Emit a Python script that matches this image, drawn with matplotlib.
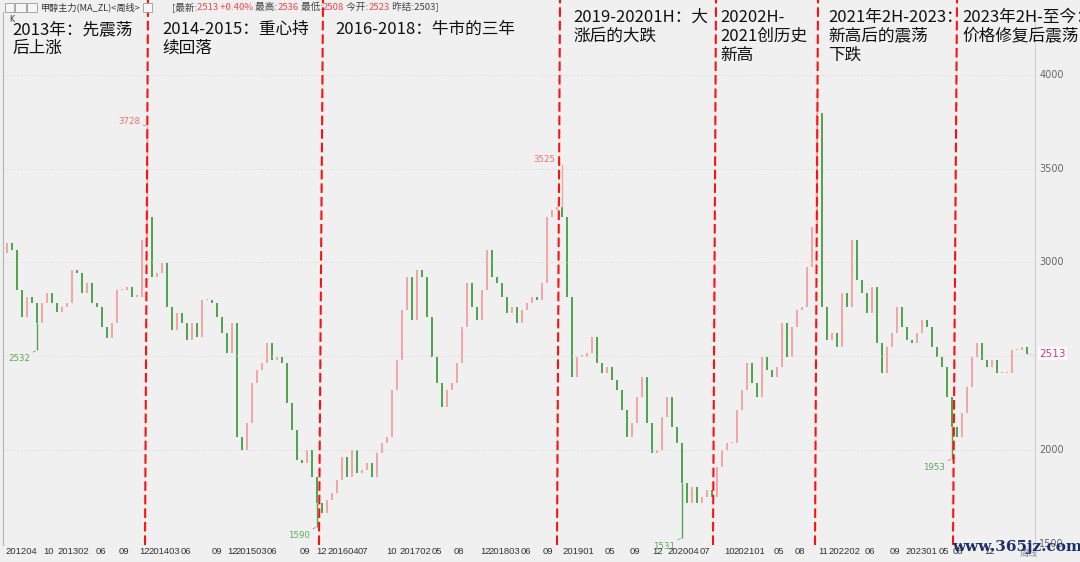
import matplotlib
matplotlib.use("Agg")
import matplotlib.pyplot as plt
import matplotlib.transforms as mtransforms
from matplotlib.patches import Rectangle

plt.rcParams['font.family'] = ['Noto Sans CJK SC', 'DejaVu Sans']

# -----------------------
# Data (methanol MA_ZL weekly, one bar every ~3 weeks)
# -----------------------
first_open = 3050
closes = [
    3102, 3067, 2853, 2711, 2818, 2782, 2676, 2782, 2836, 2782,
    2738, 2764, 2782, 2960, 2942, 2836, 2889, 2782, 2764, 2658,
    2596, 2676, 2853, 2853, 2871, 2818, 2818, 3120, 3244, 2924,
    2942, 2996, 2764, 2640, 2729, 2676, 2587, 2676, 2604, 2800,
    2800, 2782, 2711, 2622, 2516, 2676, 2071, 2000, 2142, 2355,
    2427, 2462, 2569, 2480, 2498, 2462, 2249, 2107, 1947, 1929,
    2000, 1858, 1715, 1662, 1733, 1769, 1840, 1964, 1858, 2000,
    1875, 1893, 1929, 1858, 1982, 2035, 2071, 2320, 2480, 2747,
    2924, 2693, 2960, 2924, 2711, 2498, 2356, 2231, 2320, 2356,
    2462, 2658, 2889, 2764, 2693, 2853, 3067, 2924, 2889, 2818,
    2729, 2764, 2676, 2747, 2782, 2818, 2800, 2889, 3244, 3280,
    3298, 3244, 2818, 2391, 2498, 2498, 2516, 2604, 2462, 2409,
    2444, 2373, 2320, 2213, 2071, 2142, 2284, 2391, 2142, 1982,
    2000, 2178, 2284, 2124, 2035, 1822, 1715, 1804, 1715, 1751,
    1787, 1751, 1911, 2000, 2035, 2035, 2213, 2320, 2462, 2356,
    2284, 2498, 2427, 2391, 2444, 2676, 2498, 2658, 2747, 2764,
    2977, 3191, 3795, 2764, 2586, 2622, 2551, 2835, 2764, 3120,
    2906, 2835, 2729, 2871, 2569, 2409, 2551, 2622, 2764, 2657,
    2586, 2569, 2622, 2693, 2657, 2551, 2497, 2444, 2284, 2124,
    2071, 2195, 2337, 2497, 2569, 2480, 2444, 2480, 2409, 2409,
    2409, 2533, 2533, 2551, 2513,
]

# highs / lows marked on the chart: bar index, price, label
ext_idx = [6, 28, 62, 111, 135, 162, 189]
ext_val = [2532, 3728, 1590, 3525, 1531, 3900, 1953]
ext_lab = ["2532", "3728", "1590", "3525", "1531", "", "1953"]

# hand drawn period boundaries (bar index at the top / bottom of each line)
split_top = [28.2, 63.2, 110.6, 141.8, 162.2, 190.0]
split_bot = [27.6, 62.4, 110.0, 141.2, 161.6, 189.2]

periods = [
    "2013年：先震荡\n后上涨",
    "2014-2015：重心持\n续回落",
    "2016-2018：牛市的三年",
    "2019-20201H：大\n涨后的大跌",
    "20202H-\n2021创历史\n新高",
    "2021年2H-2023：\n新高后的震荡\n下跌",
    "2023年2H-至今：\n价格修复后震荡",
]
period_x = [12, 162, 335, 573, 720, 828, 962]   # pixel left of each note
period_y = [21, 21, 21, 9, 9, 9, 9]              # pixel top of each note

tick_labels = ["201204", "10", "201302", "06", "09", "12", "201403", "06", "09", "12",
               "201503", "06", "09", "12", "201604", "07", "10", "201702", "05", "08",
               "12", "201803", "06", "09", "201901", "05", "09", "12", "202004", "07",
               "10", "202101", "05", "08", "11", "202202", "06", "09", "202301", "05",
               "08", "12"]
tick_idx = [-0.4, 7.2, 10, 17.8, 22.4, 26.4, 28.2, 34.8, 41, 44,
            45.6, 52, 58.6, 61.8, 64, 70.2, 75.8, 78.4, 85, 89.4,
            94.6, 96.2, 102.8, 107.2, 111, 119.6, 124.6, 129, 132, 138.6,
            143.4, 145.2, 153.4, 157.6, 162.2, 164.2, 171.6, 176.6, 179.6, 186.4,
            189.2, 195.4]

price_ticks = [1500, 2000, 3000, 3500, 4000]
grid_levels = [2000, 2500, 3000, 3500, 4000]
last_price = 2513

# -----------------------
# Figure
# -----------------------
W, H = 1080, 562
BG = "#f0f0f0"
UP = "#f4a6a6"
DOWN = "#4ea64e"

fig = plt.figure(figsize=(W / 100, H / 100), dpi=100, facecolor=BG)
ax = fig.add_axes([3 / W, 17 / H, 1032 / W, 533 / H])
ax.set_facecolor(BG)
ax.set_xlim(-0.8, 205.6)
ax.set_ylim(1493, 4336)
ax.set_xticks([])
ax.set_yticks([])
for side in ["top", "bottom"]:
    ax.spines[side].set_visible(False)
ax.spines["left"].set_color("#b4b4b4")
ax.spines["right"].set_color("#cfcfcf")

ax.hlines(grid_levels, -0.8, 205.6, colors="#d6d6d6", linestyles=(0, (1, 2)), lw=0.7)

# candles: open = previous close
opens = [first_open] + closes[:-1]
xs = list(range(len(closes)))
bottoms = [min(o, c) for o, c in zip(opens, closes)]
heights = [max(abs(c - o), 6) for o, c in zip(opens, closes)]
colors = [UP if c >= o else DOWN for o, c in zip(opens, closes)]
ax.bar(xs, heights, bottom=bottoms, width=0.5, color=colors, linewidth=0)

# extreme wicks + labels
for i, v, lab in zip(ext_idx, ext_val, ext_lab):
    o, c = opens[i], closes[i]
    is_high = v > max(o, c)
    base = max(o, c) if is_high else min(o, c)
    col = UP if is_high else DOWN
    ax.vlines(i, base, v, colors=col, lw=1.0)
    if lab:
        ax.annotate(lab, (i, v), xytext=(-5, 3 if is_high else -6), textcoords="offset points",
                    ha="right", va="center", fontsize=6.2, family="DejaVu Sans",
                    color="#ee7070" if is_high else "#5aa85a",
                    arrowprops=dict(arrowstyle="-", color="#8a8a8a", lw=0.5, shrinkA=0, shrinkB=1))

# period dividers
for t, b in zip(split_top, split_bot):
    ax.plot([b, t], [1493, 4400], color="#ff1010", lw=1.5, dashes=(4.6, 1.9), clip_on=False, zorder=5)

# right price axis
tr = mtransforms.blended_transform_factory(ax.transAxes, ax.transData)
for v in price_ticks:
    ax.text(1.004, v, str(v), transform=tr, fontsize=7, color="#666666",
            va="center", ha="left", family="DejaVu Sans")
ax.hlines(last_price, len(closes) - 1, 205.6, colors="#f29ac0", linestyles=(0, (1, 1.5)), lw=0.8)
ax.text(1.004, last_price, str(last_price), transform=tr, fontsize=7.5, color="#e0307c",
        va="center", ha="left", family="DejaVu Sans",
        bbox=dict(boxstyle="square,pad=0.15", fc="white", ec="none"))

# x labels
trx = mtransforms.blended_transform_factory(ax.transData, fig.transFigure)
for lab, i in zip(tick_labels, tick_idx):
    ax.text(i, 1 - 551 / H, lab, transform=trx, fontsize=6.8, color="#333333",
            va="center", ha="left", family="Liberation Sans", clip_on=False)
fig.text(1020 / W, 1 - 553 / H, "周线", fontsize=6.5, color="#888888", va="center")

# period notes
for s, px, py in zip(periods, period_x, period_y):
    fig.text(px / W, 1 - py / H, s, fontsize=12, color="#111111", va="top", ha="left",
             linespacing=1.15, zorder=6)

# toolbar
renderer = fig.canvas.get_renderer()


def chain(x, y, parts, size):
    for s, c in parts:
        t = fig.text(x / W, 1 - y / H, s, color=c, fontsize=size, va="center", ha="left")
        x += t.get_window_extent(renderer=renderer).width


for x0, x1 in [(5, 14), (15, 26), (27, 37), (143, 152)]:
    fig.patches.append(Rectangle((x0 / W, 1 - 12 / H), (x1 - x0) / W, 9 / H, transform=fig.transFigure,
                                 fc="#f6f6f6", ec="#9a9a9a", lw=0.6))
chain(41, 7, [("甲醇主力(MA_ZL)<周线>", "#333333")], 6.6)
red = "#f04848"
grey = "#444444"
chain(172, 7, [("[最新:", grey), ("2513 +0.40%", red), (" 最高:", grey), ("2536", red),
               (" 最低:", grey), ("2508", red), (" 今开:", grey), ("2523", red),
               (" 昨结:2503]", grey)], 6.9)
fig.text(9 / W, 1 - 19 / H, "K", fontsize=5.5, color="#333333", va="center", family="DejaVu Sans")

# watermark
fig.text(1017 / W, 1 - 547 / H, "www.365jz.com", fontsize=11, color="#1c2d6b", weight="bold",
         family="DejaVu Serif", ha="center", va="center", zorder=10)

fig.savefig("out.png", dpi=100, facecolor=BG)
